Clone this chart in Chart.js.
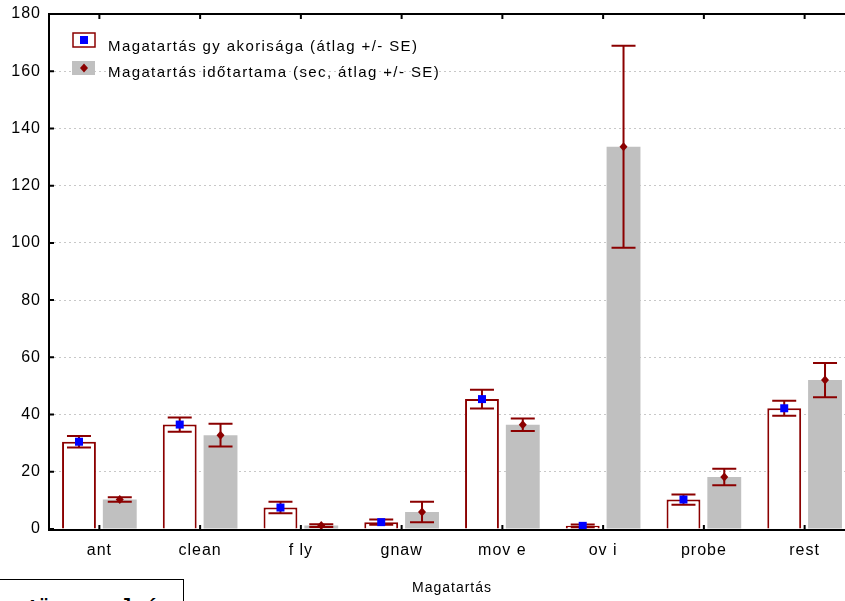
<!DOCTYPE html>
<html>
<head>
<meta charset="utf-8">
<script src="https://cdn.jsdelivr.net/npm/chart.js@4.4.1/dist/chart.umd.min.js"></script>
<style>
  html, body { margin: 0; padding: 0; background: #fff; width: 845px; height: 601px; overflow: hidden; }
  #wrap { position: absolute; left: 0; top: 0; width: 855px; height: 601px; }
  #box { position: absolute; left: -5px; top: 579px; width: 187px; height: 60px; border: 1.5px solid #000; background: #fff; }
  #boxText { position: absolute; left: 14px; top: 598px; font: bold 20px "Liberation Mono", monospace; line-height: 20px; white-space: pre; color: #000; }
</style>
</head>
<body>
<div id="wrap"><canvas id="grafico" width="855" height="601"></canvas></div>
<div id="box"></div>
<div id="boxText">a1ü      l á</div>
<script>
// Adatok
var kategoriak = ['ant', 'clean', 'f ly', 'gnaw', 'mov e', 'ov i', 'probe', 'rest'];
var gyakorisag = [30.5, 36.5, 7.5, 2.4, 45.4, 1.1, 10.3, 42.2];
var gyakorisagSE = [2, 2.5, 2, 0.9, 3.3, 0.5, 1.8, 2.6];
var idotartam = [10.3, 32.8, 1.2, 5.95, 36.45, 133.6, 18.2, 52.05];
var idotartamSE = [0.8, 4, 0.5, 3.6, 2.2, 35.3, 2.9, 6];
var yMin = 0, yMax = 180, yLepes = 20;

var sotetPiros = '#8B0000';

function marker(ctx, tipus, x, y) {
    ctx.beginPath();
    if (tipus === 'square') {
        ctx.fillStyle = '#0000FF';
        ctx.rect(x - 4, y - 4, 8, 8);
    } else {
        ctx.fillStyle = sotetPiros;
        ctx.moveTo(x, y - 4.5);
        ctx.lineTo(x + 4, y);
        ctx.lineTo(x, y + 4.5);
        ctx.lineTo(x - 4, y);
        ctx.closePath();
    }
    ctx.fill();
}

// hibasavok + jelolok
var hibasavok = {
    id: 'hibasavok',
    beforeDraw: function (chart) {
        chart.ctx.letterSpacing = '1px';
    },
    afterDatasetsDraw: function (chart) {
        var ctx = chart.ctx, y = chart.scales.y;
        chart.data.datasets.forEach(function (ds, i) {
            chart.getDatasetMeta(i).data.forEach(function (bar, j) {
                var x = bar.x;
                var fent = y.getPixelForValue(ds.data[j] + ds.hibak[j]);
                var lent = y.getPixelForValue(ds.data[j] - ds.hibak[j]);
                ctx.save();
                ctx.strokeStyle = sotetPiros;
                ctx.lineWidth = 2;
                ctx.beginPath();
                ctx.moveTo(x, fent); ctx.lineTo(x, lent);
                ctx.moveTo(x - 12, fent); ctx.lineTo(x + 12, fent);
                ctx.moveTo(x - 12, lent); ctx.lineTo(x + 12, lent);
                ctx.stroke();
                marker(ctx, ds.jelolo, x, y.getPixelForValue(ds.data[j]));
                ctx.restore();
            });
        });
    },
    afterDraw: function (chart) {
        var ctx = chart.ctx, a = chart.chartArea, xs = chart.scales.x, ys = chart.scales.y;
        ctx.save();
        // keret
        ctx.strokeStyle = '#000';
        ctx.lineWidth = 2;
        ctx.beginPath();
        ctx.moveTo(a.right + 5, a.top); ctx.lineTo(a.left, a.top); ctx.lineTo(a.left, a.bottom + 1); ctx.lineTo(a.right + 5, a.bottom + 1);
        ctx.stroke();
        // osztasok
        ctx.beginPath();
        xs.ticks.forEach(function (t, i) {
            var x = xs.getPixelForTick(i);
            ctx.moveTo(x, a.top); ctx.lineTo(x, a.top + 5);
            ctx.moveTo(x, a.bottom + 1); ctx.lineTo(x, a.bottom - 4);
        });
        ys.ticks.forEach(function (t, i) {
            var yy = ys.getPixelForTick(i);
            ctx.moveTo(a.left, yy); ctx.lineTo(a.left + 5, yy);
        });
        ctx.stroke();

        // jelmagyarazat
        var ds = chart.data.datasets;
        ctx.fillStyle = '#fff';
        ctx.fillRect(73, 33, 22, 14);
        ctx.strokeStyle = sotetPiros;
        ctx.lineWidth = 1.5;
        ctx.strokeRect(73, 33, 22, 14);
        marker(ctx, 'square', 84, 40);
        ctx.fillStyle = '#C0C0C0';
        ctx.fillRect(72, 61, 23, 14);
        marker(ctx, 'diamond', 84, 68);
        ctx.fillStyle = '#000';
        ctx.font = '15px Arial, "Liberation Sans", sans-serif';
        ctx.letterSpacing = '1.4px';
        ctx.textAlign = 'left';
        ctx.textBaseline = 'alphabetic';
        ctx.fillText(ds[0].label, 108, 51);
        ctx.fillText(ds[1].label, 108, 77);
        ctx.restore();
    }
};

var ctx = document.getElementById('grafico').getContext('2d');
var grafico = new Chart(ctx, {
    type: 'bar',
    data: {
        labels: kategoriak,
        datasets: [{
            label: 'Magatartás gy akorisága (átlag +/- SE)',
            data: gyakorisag,
            hibak: gyakorisagSE,
            jelolo: 'square',
            backgroundColor: '#ffffff',
            borderColor: sotetPiros,
            borderWidth: 2,
            borderSkipped: 'bottom'
        }, {
            label: 'Magatartás időtartama (sec, átlag +/- SE)',
            data: idotartam,
            hibak: idotartamSE,
            jelolo: 'diamond',
            backgroundColor: '#C0C0C0',
            borderWidth: 0
        }]
    },
    options: {
        responsive: false,
        animation: false,
        categoryPercentage: 0.81,
        barPercentage: 0.83,
        layout: { padding: { top: 14, left: 0, right: 0, bottom: 0 } },
        plugins: { legend: { display: false }, tooltip: { enabled: false } },
        scales: {
            x: {
                grid: { display: false, drawTicks: false },
                border: { display: false },
                ticks: { color: '#000', font: { family: 'Arial', size: 16 }, padding: 12 },
                title: { display: true, text: 'Magatartás', color: '#000', font: { family: 'Arial', size: 14 }, padding: { top: 0, bottom: 4 } },
                afterFit: function (s) { s.height = 72; s.paddingLeft = 0; s.paddingRight = 0; }
            },
            y: {
                min: yMin,
                max: yMax,
                ticks: { stepSize: yLepes, color: '#000', font: { family: 'Arial', size: 16 }, padding: 8 },
                grid: { color: '#c8c8c8', lineWidth: 1, drawTicks: false },
                border: { display: false, dash: [2, 3] },
                afterFit: function (s) { s.width = 49; s.paddingTop = 0; s.paddingBottom = 0; }
            }
        }
    },
    plugins: [hibasavok]
});
</script>
</body>
</html>
